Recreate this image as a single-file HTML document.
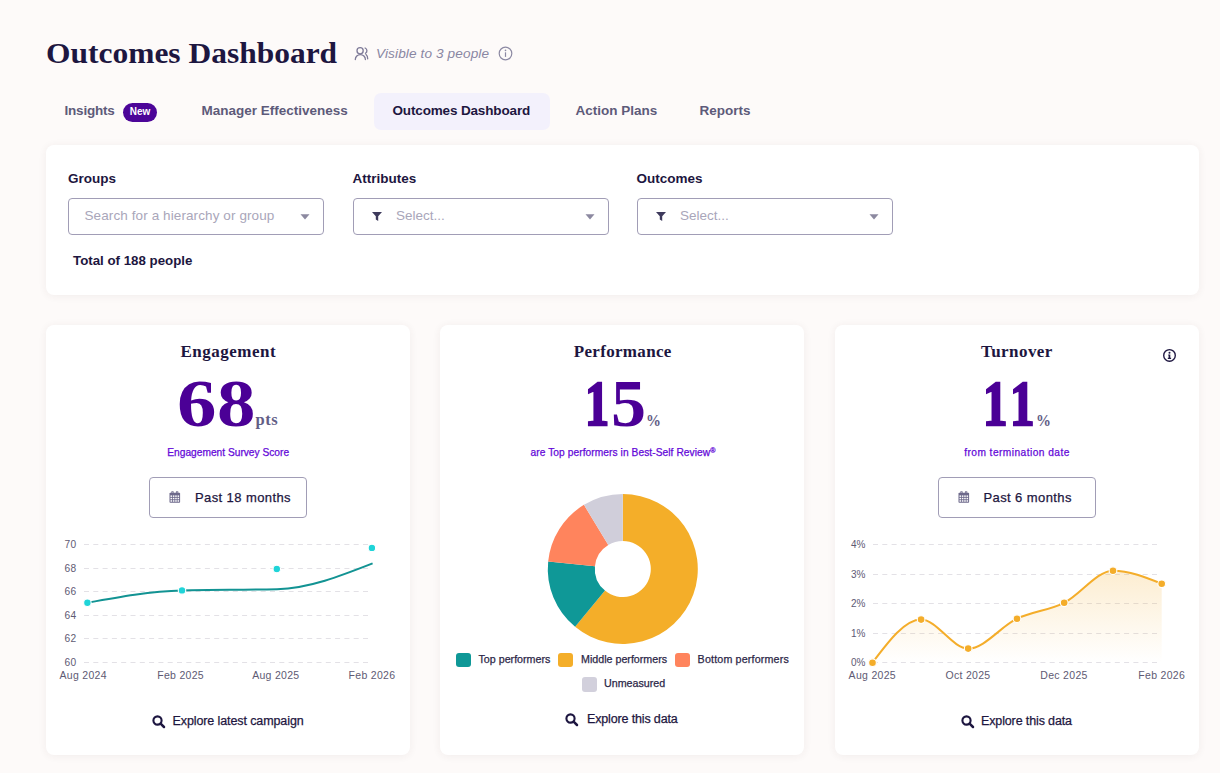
<!DOCTYPE html>
<html><head><meta charset="utf-8"><style>
html,body{margin:0;padding:0;}
body{width:1220px;height:773px;overflow:hidden;background:#fdfaf9;position:relative;font-family:'Liberation Sans', sans-serif;}
.t{position:absolute;white-space:nowrap;}
svg{display:block;}
</style></head><body>
<div class="t" style="left:46px;top:37.88px;font-family:'Liberation Serif', serif;font-size:30px;line-height:30px;font-weight:700;font-style:normal;color:#1d1640;letter-spacing:0px;transform:scaleX(1.049);transform-origin:0 0;">Outcomes Dashboard</div>
<svg style="position:absolute;left:350px;top:42px" width="24" height="22" viewBox="0 0 24 22"><g fill="none" stroke="#7e7a98" stroke-width="1.3" stroke-linecap="round"><circle cx="10.1" cy="8.7" r="3.1"/><path d="M5.3 17.6A5.05 5.05 0 0 1 15.4 17.6"/><path d="M15.1 6.0A3 3 0 0 1 15.5 11.3"/><path d="M16 12.4C17.1 13.3 17.7 15 17.7 16.8"/></g></svg>
<div class="t" style="left:376px;top:46.79px;font-family:'Liberation Sans', sans-serif;font-size:13.6px;line-height:13.6px;font-weight:400;font-style:italic;color:#8a87a3;letter-spacing:0.12px;">Visible to 3 people</div>
<svg style="position:absolute;left:498px;top:46px" width="15" height="15" viewBox="0 0 15 15"><circle cx="7.5" cy="7.5" r="6.3" fill="none" stroke="#8c89a3" stroke-width="1.2"/><rect x="6.9" y="6.3" width="1.2" height="4.6" fill="#8c89a3"/><circle cx="7.5" cy="4.4" r="0.8" fill="#8c89a3"/></svg>
<div style="position:absolute;left:374px;top:93px;width:176px;height:37px;background:#f3f1fc;border-radius:7px;"></div>
<div class="t" style="left:64.5px;top:103.87px;font-family:'Liberation Sans', sans-serif;font-size:13.5px;line-height:13.5px;font-weight:700;font-style:normal;color:#5d5a7a;letter-spacing:-0.2px;">Insights</div>
<div style="position:absolute;left:123px;top:103px;width:34px;height:19px;background:#4c0598;border-radius:10px;"></div>
<div class="t" style="left:-160px;width:600px;text-align:center;top:107.33px;font-family:'Liberation Sans', sans-serif;font-size:10px;line-height:10px;font-weight:700;font-style:normal;color:#ffffff;letter-spacing:0px;">New</div>
<div class="t" style="left:201.5px;top:103.87px;font-family:'Liberation Sans', sans-serif;font-size:13.5px;line-height:13.5px;font-weight:700;font-style:normal;color:#5d5a7a;letter-spacing:0px;">Manager Effectiveness</div>
<div class="t" style="left:392.5px;top:103.87px;font-family:'Liberation Sans', sans-serif;font-size:13.5px;line-height:13.5px;font-weight:700;font-style:normal;color:#1d1640;letter-spacing:-0.15px;">Outcomes Dashboard</div>
<div class="t" style="left:575.5px;top:103.87px;font-family:'Liberation Sans', sans-serif;font-size:13.5px;line-height:13.5px;font-weight:700;font-style:normal;color:#5d5a7a;letter-spacing:0px;">Action Plans</div>
<div class="t" style="left:699.5px;top:103.87px;font-family:'Liberation Sans', sans-serif;font-size:13.5px;line-height:13.5px;font-weight:700;font-style:normal;color:#5d5a7a;letter-spacing:0px;">Reports</div>
<div style="position:absolute;left:46px;top:145px;width:1153px;height:150px;background:#fff;border-radius:8px;box-shadow:0 1px 8px rgba(70,40,40,0.065);"></div>
<div class="t" style="left:68px;top:171.57px;font-family:'Liberation Sans', sans-serif;font-size:13.5px;line-height:13.5px;font-weight:700;font-style:normal;color:#1d1640;letter-spacing:0px;">Groups</div>
<div class="t" style="left:352.5px;top:171.57px;font-family:'Liberation Sans', sans-serif;font-size:13.5px;line-height:13.5px;font-weight:700;font-style:normal;color:#1d1640;letter-spacing:0px;">Attributes</div>
<div class="t" style="left:636.5px;top:171.57px;font-family:'Liberation Sans', sans-serif;font-size:13.5px;line-height:13.5px;font-weight:700;font-style:normal;color:#1d1640;letter-spacing:0px;">Outcomes</div>
<div style="position:absolute;left:68px;top:198px;width:256px;height:37px;box-sizing:border-box;border:1px solid #a19db6;border-radius:4px;background:#fff;"></div>
<svg style="position:absolute;left:300px;top:214px" width="10" height="6" viewBox="0 0 10 6"><path d="M0.5 0.3h9L5 5.6z" fill="#8c89a0"/></svg>
<div style="position:absolute;left:353px;top:198px;width:256px;height:37px;box-sizing:border-box;border:1px solid #a19db6;border-radius:4px;background:#fff;"></div>
<svg style="position:absolute;left:585px;top:214px" width="10" height="6" viewBox="0 0 10 6"><path d="M0.5 0.3h9L5 5.6z" fill="#8c89a0"/></svg>
<div style="position:absolute;left:637px;top:198px;width:256px;height:37px;box-sizing:border-box;border:1px solid #a19db6;border-radius:4px;background:#fff;"></div>
<svg style="position:absolute;left:869px;top:214px" width="10" height="6" viewBox="0 0 10 6"><path d="M0.5 0.3h9L5 5.6z" fill="#8c89a0"/></svg>
<div class="t" style="left:84.5px;top:209.07px;font-family:'Liberation Sans', sans-serif;font-size:13.5px;line-height:13.5px;font-weight:400;font-style:normal;color:#a9a6ba;letter-spacing:0.1px;">Search for a hierarchy or group</div>
<svg style="position:absolute;left:372px;top:212px" width="10" height="9" viewBox="0 0 10 9"><path d="M0 0h10L6.2 4.2V9L3.8 7.6V4.2z" fill="#3e3a5c"/></svg>
<div class="t" style="left:396px;top:209.07px;font-family:'Liberation Sans', sans-serif;font-size:13.5px;line-height:13.5px;font-weight:400;font-style:normal;color:#a9a6ba;letter-spacing:0px;">Select...</div>
<svg style="position:absolute;left:656px;top:212px" width="10" height="9" viewBox="0 0 10 9"><path d="M0 0h10L6.2 4.2V9L3.8 7.6V4.2z" fill="#3e3a5c"/></svg>
<div class="t" style="left:680px;top:209.07px;font-family:'Liberation Sans', sans-serif;font-size:13.5px;line-height:13.5px;font-weight:400;font-style:normal;color:#a9a6ba;letter-spacing:0px;">Select...</div>
<div class="t" style="left:73px;top:254.24px;font-family:'Liberation Sans', sans-serif;font-size:13.3px;line-height:13.3px;font-weight:700;font-style:normal;color:#1d1640;letter-spacing:0px;">Total of 188 people</div>
<div style="position:absolute;left:46px;top:325px;width:364px;height:430px;background:#fff;border-radius:8px;box-shadow:0 1px 8px rgba(70,40,40,0.065);"></div>
<div style="position:absolute;left:440px;top:325px;width:364px;height:430px;background:#fff;border-radius:8px;box-shadow:0 1px 8px rgba(70,40,40,0.065);"></div>
<div style="position:absolute;left:835px;top:325px;width:364px;height:430px;background:#fff;border-radius:8px;box-shadow:0 1px 8px rgba(70,40,40,0.065);"></div>
<div class="t" style="left:-71.69999999999999px;width:600px;text-align:center;top:342.76px;font-family:'Liberation Serif', serif;font-size:17px;line-height:17px;font-weight:700;font-style:normal;color:#1d1640;letter-spacing:0.5px;">Engagement</div>
<div class="t" style="left:322.70000000000005px;width:600px;text-align:center;top:342.76px;font-family:'Liberation Serif', serif;font-size:17px;line-height:17px;font-weight:700;font-style:normal;color:#1d1640;letter-spacing:0.33px;">Performance</div>
<div class="t" style="left:716.9px;width:600px;text-align:center;top:342.76px;font-family:'Liberation Serif', serif;font-size:17px;line-height:17px;font-weight:700;font-style:normal;color:#1d1640;letter-spacing:0.45px;">Turnover</div>
<svg style="position:absolute;left:1162px;top:348px" width="15" height="15" viewBox="0 0 15 15"><circle cx="7.5" cy="7.4" r="5.8" fill="none" stroke="#1d1640" stroke-width="1.35"/><path d="M6.2 6.5h2.1v3.3h0.8v1.1h-3.3v-1.1h0.8v-2.2h-0.4z" fill="#1d1640"/><circle cx="7.5" cy="4.8" r="1" fill="#1d1640"/></svg>
<div class="t" style="left:176.98px;top:369px;font-family:'Liberation Serif', serif;font-size:68px;line-height:68px;font-weight:700;color:#4b0096;transform:scale(1.16,1.0);transform-origin:0 0;">6</div>
<div class="t" style="left:216.94px;top:369px;font-family:'Liberation Serif', serif;font-size:68px;line-height:68px;font-weight:700;color:#4b0096;transform:scale(1.13,1.0);transform-origin:0 0;">8</div>
<div class="t" style="left:585.07px;top:372px;font-family:'Liberation Serif', serif;font-size:68px;line-height:68px;font-weight:700;color:#4b0096;transform:scale(0.71,0.93);transform-origin:0 0;-webkit-text-stroke:2.6px #4b0096;">1</div>
<div class="t" style="left:610.74px;top:369px;font-family:'Liberation Serif', serif;font-size:68px;line-height:68px;font-weight:700;color:#4b0096;transform:scale(1.03,1.0);transform-origin:0 0;">5</div>
<div class="t" style="left:983.24px;top:372px;font-family:'Liberation Serif', serif;font-size:68px;line-height:68px;font-weight:700;color:#4b0096;transform:scale(0.72,0.93);transform-origin:0 0;-webkit-text-stroke:2.6px #4b0096;">1</div>
<div class="t" style="left:1010.14px;top:372px;font-family:'Liberation Serif', serif;font-size:68px;line-height:68px;font-weight:700;color:#4b0096;transform:scale(0.72,0.93);transform-origin:0 0;-webkit-text-stroke:2.6px #4b0096;">1</div>
<div class="t" style="left:255.5px;top:412.18px;font-family:'Liberation Serif', serif;font-size:16.5px;line-height:16.5px;font-weight:700;font-style:normal;color:#625e86;letter-spacing:0.5px;">pts</div>
<div class="t" style="left:646.3px;top:411.76px;font-family:'Liberation Serif', serif;font-size:17px;line-height:17px;font-weight:700;font-style:normal;color:#625e86;letter-spacing:0px;transform:scaleX(0.88);transform-origin:0 0;">%</div>
<div class="t" style="left:1036.2px;top:411.76px;font-family:'Liberation Serif', serif;font-size:17px;line-height:17px;font-weight:700;font-style:normal;color:#625e86;letter-spacing:0px;transform:scaleX(0.88);transform-origin:0 0;">%</div>
<div class="t" style="left:-71.80000000000001px;width:600px;text-align:center;top:447.67px;font-family:'Liberation Sans', sans-serif;font-size:10.2px;line-height:10.2px;font-weight:400;font-style:normal;color:#6408d8;letter-spacing:0px;-webkit-text-stroke:0.25px currentColor;">Engagement Survey Score</div>
<div class="t" style="left:323px;width:600px;text-align:center;top:447.67px;font-family:'Liberation Sans', sans-serif;font-size:10.2px;line-height:10.2px;font-weight:400;font-style:normal;color:#6408d8;letter-spacing:0.07px;-webkit-text-stroke:0.25px currentColor;">are Top performers in Best-Self Review<span style="font-size:7px;position:relative;top:-3px">®</span></div>
<div class="t" style="left:717px;width:600px;text-align:center;top:447.67px;font-family:'Liberation Sans', sans-serif;font-size:10.2px;line-height:10.2px;font-weight:400;font-style:normal;color:#6408d8;letter-spacing:0.45px;-webkit-text-stroke:0.25px currentColor;">from termination date</div>
<div style="position:absolute;left:149px;top:477px;width:158px;height:41px;box-sizing:border-box;border:1px solid #a19db6;border-radius:4px;background:#fff;"></div>
<svg style="position:absolute;left:168.5px;top:491px" width="12" height="12" viewBox="0 0 12 12"><rect x="0.5" y="1.8" width="10.6" height="10" rx="0.8" fill="#6e6a8c"/><g fill="#fff"><rect x="1.50" y="4.40" width="1.55" height="1.5"/><rect x="3.85" y="4.40" width="1.55" height="1.5"/><rect x="6.20" y="4.40" width="1.55" height="1.5"/><rect x="8.55" y="4.40" width="1.55" height="1.5"/><rect x="1.50" y="6.80" width="1.55" height="1.5"/><rect x="3.85" y="6.80" width="1.55" height="1.5"/><rect x="6.20" y="6.80" width="1.55" height="1.5"/><rect x="8.55" y="6.80" width="1.55" height="1.5"/><rect x="1.50" y="9.20" width="1.55" height="1.5"/><rect x="3.85" y="9.20" width="1.55" height="1.5"/><rect x="6.20" y="9.20" width="1.55" height="1.5"/><rect x="8.55" y="9.20" width="1.55" height="1.5"/></g><path d="M2.8 2.4V0.8a0.7 0.7 0 0 1 1.4 0V2.4M7.4 2.4V0.8a0.7 0.7 0 0 1 1.4 0V2.4" fill="none" stroke="#6e6a8c" stroke-width="0.9"/></svg>
<div class="t" style="left:195px;top:491.00px;font-family:'Liberation Sans', sans-serif;font-size:13px;line-height:13px;font-weight:400;font-style:normal;color:#1d1640;letter-spacing:0.4px;-webkit-text-stroke:0.25px currentColor;">Past 18 months</div>
<div style="position:absolute;left:938px;top:477px;width:158px;height:41px;box-sizing:border-box;border:1px solid #a19db6;border-radius:4px;background:#fff;"></div>
<svg style="position:absolute;left:957.5px;top:491px" width="12" height="12" viewBox="0 0 12 12"><rect x="0.5" y="1.8" width="10.6" height="10" rx="0.8" fill="#6e6a8c"/><g fill="#fff"><rect x="1.50" y="4.40" width="1.55" height="1.5"/><rect x="3.85" y="4.40" width="1.55" height="1.5"/><rect x="6.20" y="4.40" width="1.55" height="1.5"/><rect x="8.55" y="4.40" width="1.55" height="1.5"/><rect x="1.50" y="6.80" width="1.55" height="1.5"/><rect x="3.85" y="6.80" width="1.55" height="1.5"/><rect x="6.20" y="6.80" width="1.55" height="1.5"/><rect x="8.55" y="6.80" width="1.55" height="1.5"/><rect x="1.50" y="9.20" width="1.55" height="1.5"/><rect x="3.85" y="9.20" width="1.55" height="1.5"/><rect x="6.20" y="9.20" width="1.55" height="1.5"/><rect x="8.55" y="9.20" width="1.55" height="1.5"/></g><path d="M2.8 2.4V0.8a0.7 0.7 0 0 1 1.4 0V2.4M7.4 2.4V0.8a0.7 0.7 0 0 1 1.4 0V2.4" fill="none" stroke="#6e6a8c" stroke-width="0.9"/></svg>
<div class="t" style="left:983.5px;top:491.00px;font-family:'Liberation Sans', sans-serif;font-size:13px;line-height:13px;font-weight:400;font-style:normal;color:#1d1640;letter-spacing:0.4px;-webkit-text-stroke:0.25px currentColor;">Past 6 months</div>
<svg style="position:absolute;left:151.5px;top:714.5px" width="14" height="14" viewBox="0 0 14 14"><circle cx="5.5" cy="5.5" r="4.1" fill="none" stroke="#1d1640" stroke-width="2.1"/><path d="M8.6 8.6L12 12" stroke="#1d1640" stroke-width="2.5" stroke-linecap="round"/></svg>
<div class="t" style="left:172.5px;top:715.12px;font-family:'Liberation Sans', sans-serif;font-size:12.5px;line-height:12.5px;font-weight:400;font-style:normal;color:#1d1640;letter-spacing:-0.1px;-webkit-text-stroke:0.25px currentColor;">Explore latest campaign</div>
<svg style="position:absolute;left:565px;top:712.5px" width="14" height="14" viewBox="0 0 14 14"><circle cx="5.5" cy="5.5" r="4.1" fill="none" stroke="#1d1640" stroke-width="2.1"/><path d="M8.6 8.6L12 12" stroke="#1d1640" stroke-width="2.5" stroke-linecap="round"/></svg>
<div class="t" style="left:587px;top:712.92px;font-family:'Liberation Sans', sans-serif;font-size:12.5px;line-height:12.5px;font-weight:400;font-style:normal;color:#1d1640;letter-spacing:-0.15px;-webkit-text-stroke:0.25px currentColor;">Explore this data</div>
<svg style="position:absolute;left:960.5px;top:714.5px" width="14" height="14" viewBox="0 0 14 14"><circle cx="5.5" cy="5.5" r="4.1" fill="none" stroke="#1d1640" stroke-width="2.1"/><path d="M8.6 8.6L12 12" stroke="#1d1640" stroke-width="2.5" stroke-linecap="round"/></svg>
<div class="t" style="left:981px;top:714.92px;font-family:'Liberation Sans', sans-serif;font-size:12.5px;line-height:12.5px;font-weight:400;font-style:normal;color:#1d1640;letter-spacing:-0.13px;-webkit-text-stroke:0.25px currentColor;">Explore this data</div>
<svg style="position:absolute;left:0;top:0" width="1220" height="773" viewBox="0 0 1220 773">
<line x1="84" y1="662.5" x2="369" y2="662.5" stroke="#e3e1e6" stroke-width="1" stroke-dasharray="5 4.3"/>
<line x1="84" y1="638.5" x2="369" y2="638.5" stroke="#e3e1e6" stroke-width="1" stroke-dasharray="5 4.3"/>
<line x1="84" y1="615.5" x2="369" y2="615.5" stroke="#e3e1e6" stroke-width="1" stroke-dasharray="5 4.3"/>
<line x1="84" y1="591.5" x2="369" y2="591.5" stroke="#e3e1e6" stroke-width="1" stroke-dasharray="5 4.3"/>
<line x1="84" y1="568.5" x2="369" y2="568.5" stroke="#e3e1e6" stroke-width="1" stroke-dasharray="5 4.3"/>
<line x1="84" y1="544.5" x2="369" y2="544.5" stroke="#e3e1e6" stroke-width="1" stroke-dasharray="5 4.3"/>
<path d="M87.40,602.70C118.93,596.95 150.47,591.20 182.00,590.40C213.67,589.60 245.33,590.00 277.00,589.20C308.87,588.39 340.73,575.90 372.60,563.40" fill="none" stroke="#129393" stroke-width="2"/>
<circle cx="87.4" cy="602.7" r="3.75" fill="#1fd4d8" stroke="#fff" stroke-width="1.1"/>
<circle cx="182" cy="590.4" r="3.75" fill="#1fd4d8" stroke="#fff" stroke-width="1.1"/>
<circle cx="276.8" cy="569" r="3.75" fill="#1fd4d8" stroke="#fff" stroke-width="1.1"/>
<circle cx="371.9" cy="547.9" r="3.75" fill="#1fd4d8" stroke="#fff" stroke-width="1.1"/>
<line x1="873" y1="662.5" x2="1159" y2="662.5" stroke="#e3e1e6" stroke-width="1" stroke-dasharray="5 4.3"/>
<line x1="873" y1="633.5" x2="1159" y2="633.5" stroke="#e3e1e6" stroke-width="1" stroke-dasharray="5 4.3"/>
<line x1="873" y1="603.5" x2="1159" y2="603.5" stroke="#e3e1e6" stroke-width="1" stroke-dasharray="5 4.3"/>
<line x1="873" y1="574.5" x2="1159" y2="574.5" stroke="#e3e1e6" stroke-width="1" stroke-dasharray="5 4.3"/>
<line x1="873" y1="544.5" x2="1159" y2="544.5" stroke="#e3e1e6" stroke-width="1" stroke-dasharray="5 4.3"/>
<defs><linearGradient id="ag" x1="0" y1="0" x2="0" y2="1"><stop offset="0" stop-color="#f3ae2e" stop-opacity="0.22"/><stop offset="1" stop-color="#f3ae2e" stop-opacity="0.0"/></linearGradient></defs>
<path d="M872.50,662.70C888.70,641.15 904.90,619.60 921.10,619.60C936.80,619.60 952.50,648.60 968.20,648.60C984.47,648.60 1000.73,626.39 1017.00,618.70C1032.73,611.27 1048.47,610.58 1064.20,602.80C1080.47,594.75 1096.73,570.70 1113.00,570.70C1129.23,570.70 1145.47,577.25 1161.70,583.80L1161.7,662.7L872.5,662.7Z" fill="url(#ag)"/>
<path d="M872.50,662.70C888.70,641.15 904.90,619.60 921.10,619.60C936.80,619.60 952.50,648.60 968.20,648.60C984.47,648.60 1000.73,626.39 1017.00,618.70C1032.73,611.27 1048.47,610.58 1064.20,602.80C1080.47,594.75 1096.73,570.70 1113.00,570.70C1129.23,570.70 1145.47,577.25 1161.70,583.80" fill="none" stroke="#f4ad2a" stroke-width="2"/>
<circle cx="872.5" cy="662.7" r="3.85" fill="#f4ad2a" stroke="#fff" stroke-width="1.1"/>
<circle cx="921.1" cy="619.6" r="3.85" fill="#f4ad2a" stroke="#fff" stroke-width="1.1"/>
<circle cx="968.2" cy="648.6" r="3.85" fill="#f4ad2a" stroke="#fff" stroke-width="1.1"/>
<circle cx="1017" cy="618.7" r="3.85" fill="#f4ad2a" stroke="#fff" stroke-width="1.1"/>
<circle cx="1064.2" cy="602.8" r="3.85" fill="#f4ad2a" stroke="#fff" stroke-width="1.1"/>
<circle cx="1113" cy="570.7" r="3.85" fill="#f4ad2a" stroke="#fff" stroke-width="1.1"/>
<circle cx="1161.7" cy="583.8" r="3.85" fill="#f4ad2a" stroke="#fff" stroke-width="1.1"/>
<path d="M622.80,494.00A75,75 0 1 1 575.09,626.87L604.99,590.61A28,28 0 1 0 622.80,541.00Z" fill="#f4ae29"/>
<path d="M575.09,626.87A75,75 0 0 1 548.17,561.55L594.94,566.22A28,28 0 0 0 604.99,590.61Z" fill="#0f9897"/>
<path d="M548.17,561.55A75,75 0 0 1 583.95,504.85L608.30,545.05A28,28 0 0 0 594.94,566.22Z" fill="#ff845d"/>
<path d="M583.95,504.85A75,75 0 0 1 622.80,494.00L622.80,541.00A28,28 0 0 0 608.30,545.05Z" fill="#d0ceda"/>
</svg>
<div class="t" style="left:-523.5px;width:600px;text-align:right;top:658.07px;font-family:'Liberation Sans', sans-serif;font-size:10.2px;line-height:10.2px;font-weight:400;font-style:normal;color:#5e5a73;letter-spacing:0.3px;">60</div>
<div class="t" style="left:-523.5px;width:600px;text-align:right;top:634.47px;font-family:'Liberation Sans', sans-serif;font-size:10.2px;line-height:10.2px;font-weight:400;font-style:normal;color:#5e5a73;letter-spacing:0.3px;">62</div>
<div class="t" style="left:-523.5px;width:600px;text-align:right;top:610.87px;font-family:'Liberation Sans', sans-serif;font-size:10.2px;line-height:10.2px;font-weight:400;font-style:normal;color:#5e5a73;letter-spacing:0.3px;">64</div>
<div class="t" style="left:-523.5px;width:600px;text-align:right;top:587.27px;font-family:'Liberation Sans', sans-serif;font-size:10.2px;line-height:10.2px;font-weight:400;font-style:normal;color:#5e5a73;letter-spacing:0.3px;">66</div>
<div class="t" style="left:-523.5px;width:600px;text-align:right;top:563.67px;font-family:'Liberation Sans', sans-serif;font-size:10.2px;line-height:10.2px;font-weight:400;font-style:normal;color:#5e5a73;letter-spacing:0.3px;">68</div>
<div class="t" style="left:-523.5px;width:600px;text-align:right;top:540.07px;font-family:'Liberation Sans', sans-serif;font-size:10.2px;line-height:10.2px;font-weight:400;font-style:normal;color:#5e5a73;letter-spacing:0.3px;">70</div>
<div class="t" style="left:-216.8px;width:600px;text-align:center;top:670.11px;font-family:'Liberation Sans', sans-serif;font-size:10.5px;line-height:10.5px;font-weight:400;font-style:normal;color:#5e5a73;letter-spacing:0.3px;">Aug 2024</div>
<div class="t" style="left:-119.4px;width:600px;text-align:center;top:670.11px;font-family:'Liberation Sans', sans-serif;font-size:10.5px;line-height:10.5px;font-weight:400;font-style:normal;color:#5e5a73;letter-spacing:0.3px;">Feb 2025</div>
<div class="t" style="left:-24.19999999999999px;width:600px;text-align:center;top:670.11px;font-family:'Liberation Sans', sans-serif;font-size:10.5px;line-height:10.5px;font-weight:400;font-style:normal;color:#5e5a73;letter-spacing:0.3px;">Aug 2025</div>
<div class="t" style="left:72px;width:600px;text-align:center;top:670.11px;font-family:'Liberation Sans', sans-serif;font-size:10.5px;line-height:10.5px;font-weight:400;font-style:normal;color:#5e5a73;letter-spacing:0.3px;">Feb 2026</div>
<div class="t" style="left:265.5px;width:600px;text-align:right;top:658.43px;font-family:'Liberation Sans', sans-serif;font-size:10px;line-height:10px;font-weight:400;font-style:normal;color:#5e5a73;letter-spacing:0px;">0%</div>
<div class="t" style="left:265.5px;width:600px;text-align:right;top:628.93px;font-family:'Liberation Sans', sans-serif;font-size:10px;line-height:10px;font-weight:400;font-style:normal;color:#5e5a73;letter-spacing:0px;">1%</div>
<div class="t" style="left:265.5px;width:600px;text-align:right;top:599.43px;font-family:'Liberation Sans', sans-serif;font-size:10px;line-height:10px;font-weight:400;font-style:normal;color:#5e5a73;letter-spacing:0px;">2%</div>
<div class="t" style="left:265.5px;width:600px;text-align:right;top:569.93px;font-family:'Liberation Sans', sans-serif;font-size:10px;line-height:10px;font-weight:400;font-style:normal;color:#5e5a73;letter-spacing:0px;">3%</div>
<div class="t" style="left:265.5px;width:600px;text-align:right;top:540.43px;font-family:'Liberation Sans', sans-serif;font-size:10px;line-height:10px;font-weight:400;font-style:normal;color:#5e5a73;letter-spacing:0px;">4%</div>
<div class="t" style="left:572.3px;width:600px;text-align:center;top:670.11px;font-family:'Liberation Sans', sans-serif;font-size:10.5px;line-height:10.5px;font-weight:400;font-style:normal;color:#5e5a73;letter-spacing:0.3px;">Aug 2025</div>
<div class="t" style="left:668px;width:600px;text-align:center;top:670.11px;font-family:'Liberation Sans', sans-serif;font-size:10.5px;line-height:10.5px;font-weight:400;font-style:normal;color:#5e5a73;letter-spacing:0.3px;">Oct 2025</div>
<div class="t" style="left:764px;width:600px;text-align:center;top:670.11px;font-family:'Liberation Sans', sans-serif;font-size:10.5px;line-height:10.5px;font-weight:400;font-style:normal;color:#5e5a73;letter-spacing:0.3px;">Dec 2025</div>
<div class="t" style="left:861.7px;width:600px;text-align:center;top:670.11px;font-family:'Liberation Sans', sans-serif;font-size:10.5px;line-height:10.5px;font-weight:400;font-style:normal;color:#5e5a73;letter-spacing:0.3px;">Feb 2026</div>
<div style="position:absolute;left:456px;top:652.5px;width:15px;height:14.5px;background:#0f9897;border-radius:3px;"></div>
<div class="t" style="left:478.5px;top:653.94px;font-family:'Liberation Sans', sans-serif;font-size:10.7px;line-height:10.7px;font-weight:400;font-style:normal;color:#2c2748;letter-spacing:0px;-webkit-text-stroke:0.25px currentColor;">Top performers</div>
<div style="position:absolute;left:558px;top:652.5px;width:15px;height:14.5px;background:#f4ae29;border-radius:3px;"></div>
<div class="t" style="left:581px;top:653.94px;font-family:'Liberation Sans', sans-serif;font-size:10.7px;line-height:10.7px;font-weight:400;font-style:normal;color:#2c2748;letter-spacing:0px;-webkit-text-stroke:0.25px currentColor;">Middle performers</div>
<div style="position:absolute;left:675.3px;top:652.5px;width:15px;height:14.5px;background:#ff845d;border-radius:3px;"></div>
<div class="t" style="left:697.6px;top:653.94px;font-family:'Liberation Sans', sans-serif;font-size:10.7px;line-height:10.7px;font-weight:400;font-style:normal;color:#2c2748;letter-spacing:0.17px;-webkit-text-stroke:0.25px currentColor;">Bottom performers</div>
<div style="position:absolute;left:582px;top:677px;width:15px;height:14.5px;background:#d2d0dc;border-radius:3px;"></div>
<div class="t" style="left:604px;top:678.44px;font-family:'Liberation Sans', sans-serif;font-size:10.7px;line-height:10.7px;font-weight:400;font-style:normal;color:#2c2748;letter-spacing:0px;-webkit-text-stroke:0.25px currentColor;">Unmeasured</div>
</body></html>
